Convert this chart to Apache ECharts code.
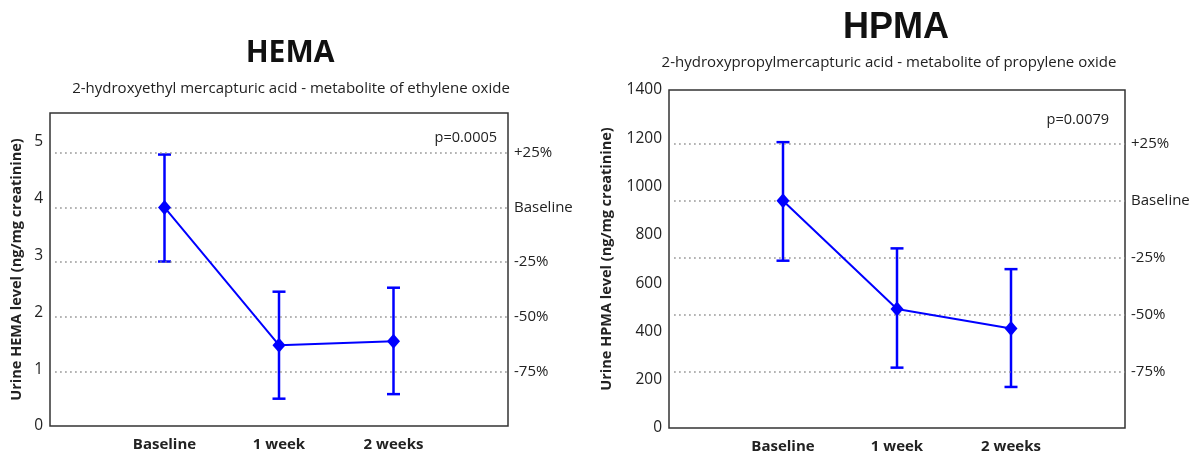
<!DOCTYPE html>
<html>
<head>
<meta charset="utf-8">
<script src="https://cdn.jsdelivr.net/npm/echarts@6/dist/echarts.min.js"></script>
<style>
html,body{margin:0;padding:0;background:#fff;}
#chart{width:1196px;height:455px;}
</style>
</head>
<body>
<div id="chart"></div>
<script>
// ---- data ----
const categories = ['Baseline', '1 week', '2 weeks'];

const hemaMean = [3.84, 1.42, 1.49];
const hemaLow  = [2.89, 0.48, 0.56];
const hemaHigh = [4.77, 2.36, 2.43];
const hemaRefLevels = [4.80, 3.84, 2.88, 1.92, 0.96];
const hemaYTicks = [0, 1, 2, 3, 4, 5];
const hemaP = 'p=0.0005';

const hpmaMean = [941, 493, 412];
const hpmaLow  = [693, 250, 170];
const hpmaHigh = [1184, 744, 658];
const hpmaRefLevels = [1176, 941, 706, 470, 235];
const hpmaYTicks = [0, 200, 400, 600, 800, 1000, 1200, 1400];
const hpmaP = 'p=0.0079';

const refLabels = ['+25%', 'Baseline', '-25%', '-50%', '-75%'];

// ---- styling ----
const BLUE = '#0000ff';
const FONT = "'Open Sans', sans-serif";
const TXT = '#222';

const chart = echarts.init(document.getElementById('chart'));

function xAxisCfg(gridIndex) {
  return {
    gridIndex, type: 'value', min: 0, max: categories.length + 1, interval: 1,
    axisLine: {show: false}, axisTick: {show: false}, splitLine: {show: false},
    axisLabel: {
      margin: 11, color: TXT, fontFamily: FONT, fontSize: 15, fontWeight: 'bold',
      formatter: v => categories[v - 1] || ''
    }
  };
}
function yAxisCfg(gridIndex, ticks, max, name, nameGap) {
  return {
    gridIndex, type: 'value', min: 0, max, interval: ticks[1] - ticks[0],
    name, nameLocation: 'middle', nameGap, nameRotate: 90,
    nameTextStyle: {fontFamily: FONT, fontSize: 14.5, fontWeight: 'bold', color: TXT},
    axisLine: {show: false}, axisTick: {show: false}, splitLine: {show: false},
    axisLabel: {
      margin: 7, color: TXT, fontFamily: FONT, fontSize: 15.5,
      formatter: v => (ticks.indexOf(v) >= 0 ? String(v) : '')
    }
  };
}
function lineSeries(idx, means, refs) {
  return {
    type: 'line', xAxisIndex: idx, yAxisIndex: idx, z: 5,
    data: means.map((m, i) => [i + 1, m]),
    symbol: 'diamond', symbolSize: [13, 15],
    lineStyle: {color: BLUE, width: 2},
    itemStyle: {color: BLUE},
    markLine: {
      silent: true, symbol: 'none', animation: false,
      lineStyle: {color: '#8a8a8a', type: [1.5, 3.5], width: 1.5},
      label: {
        position: 'end', distance: 6, color: TXT, fontFamily: FONT, fontSize: 15,
        formatter: p => refLabels[p.dataIndex]
      },
      data: refs.map(v => [{coord: [0.045, v]}, {coord: [categories.length + 1, v]}])
    }
  };
}
function errSeries(idx, low, high) {
  return {
    type: 'custom', xAxisIndex: idx, yAxisIndex: idx, z: 4,
    data: low.map((l, i) => [i + 1, l, high[i]]),
    renderItem: (params, api) => {
      const x = api.value(0);
      const pLow = api.coord([x, api.value(1)]);
      const pHigh = api.coord([x, api.value(2)]);
      const hw = 6.5;
      const st = {stroke: BLUE, lineWidth: 2.5};
      return {
        type: 'group', children: [
          {type: 'line', shape: {x1: pLow[0], y1: pLow[1], x2: pHigh[0], y2: pHigh[1]}, style: st},
          {type: 'line', shape: {x1: pLow[0] - hw, y1: pLow[1], x2: pLow[0] + hw, y2: pLow[1]}, style: st},
          {type: 'line', shape: {x1: pHigh[0] - hw, y1: pHigh[1], x2: pHigh[0] + hw, y2: pHigh[1]}, style: st}
        ]
      };
    }
  };
}

const option = {
  animation: false,
  backgroundColor: '#fff',
  grid: [
    {left: 50, top: 113, width: 458, height: 313, show: true, borderColor: '#333', borderWidth: 1.5, backgroundColor: 'transparent'},
    {left: 669, top: 90, width: 456, height: 338, show: true, borderColor: '#333', borderWidth: 1.5, backgroundColor: 'transparent'}
  ],
  xAxis: [xAxisCfg(0), xAxisCfg(1)],
  yAxis: [
    yAxisCfg(0, hemaYTicks, 5.5, 'Urine HEMA level (ng/mg creatinine)', 26),
    yAxisCfg(1, hpmaYTicks, 1400, 'Urine HPMA level (ng/mg creatinine)', 55)
  ],
  graphic: [
    {type: 'text', x: 290, y: 53, style: {text: 'HEMA', font: "bold 30px 'Open Sans'", fill: '#111', align: 'center', verticalAlign: 'middle'}},
    {type: 'text', x: 291, y: 89, style: {text: '2-hydroxyethyl mercapturic acid - metabolite of ethylene oxide', font: "15px 'Open Sans'", fill: TXT, align: 'center', verticalAlign: 'middle'}},
    {type: 'text', x: 896, y: 28, style: {text: 'HPMA', font: "bold 36px 'Liberation Sans'", fill: '#111', align: 'center', verticalAlign: 'middle'}},
    {type: 'text', x: 889, y: 63, style: {text: '2-hydroxypropylmercapturic acid - metabolite of propylene oxide', font: "15px 'Open Sans'", fill: TXT, align: 'center', verticalAlign: 'middle'}},
    {type: 'text', x: 497, y: 138, style: {text: hemaP, font: "14.5px 'Open Sans'", fill: TXT, align: 'right', verticalAlign: 'middle'}},
    {type: 'text', x: 1109, y: 120, style: {text: hpmaP, font: "14.5px 'Open Sans'", fill: TXT, align: 'right', verticalAlign: 'middle'}}
  ],
  series: [
    errSeries(0, hemaLow, hemaHigh),
    lineSeries(0, hemaMean, hemaRefLevels),
    errSeries(1, hpmaLow, hpmaHigh),
    lineSeries(1, hpmaMean, hpmaRefLevels)
  ]
};
chart.setOption(option);
</script>
</body>
</html>
